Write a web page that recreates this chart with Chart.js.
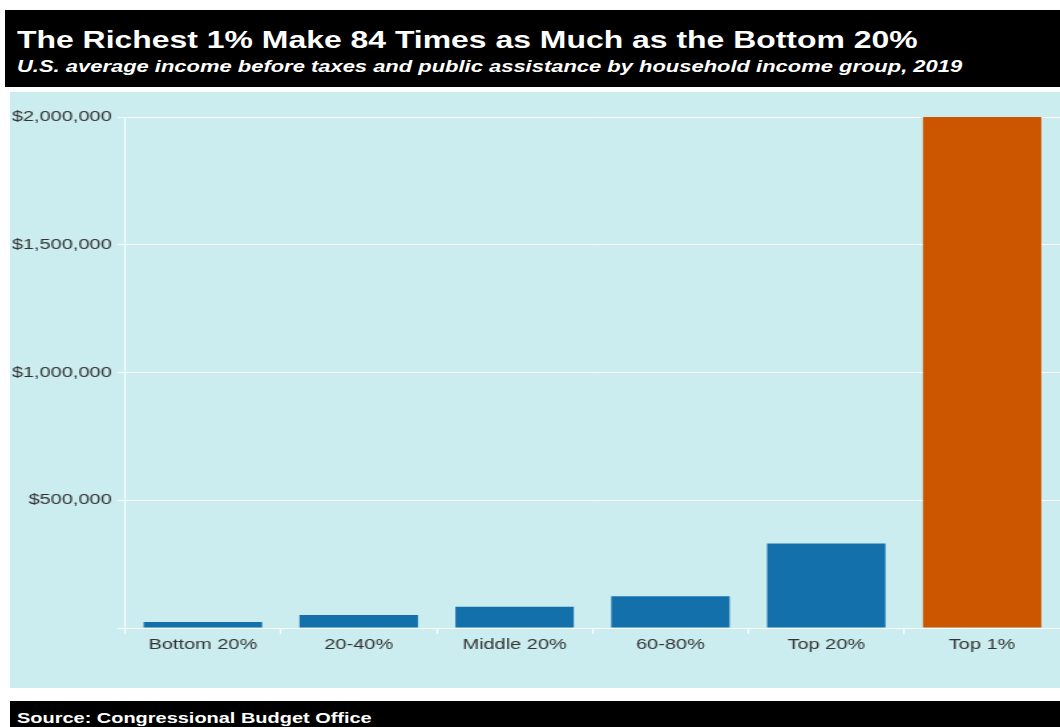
<!DOCTYPE html>
<html>
<head>
<meta charset="utf-8">
<script src="https://cdn.jsdelivr.net/npm/chart.js@4"></script>
<style>
  body { margin: 0; background: #fff; width: 1060px; height: 727px; overflow: hidden; position: relative; font-family: "Liberation Sans", Arial, sans-serif; }
  #head { position: absolute; left: 5px; top: 10px; width: 1055px; height: 77px; background: #000; color: #fff; }
  .wide { position: absolute; left: 12px; margin: 0; white-space: nowrap; transform: scaleX(1.33); transform-origin: left top; }
  #head h1 { top: 16px; font-size: 24px; font-weight: bold; }
  #head p { top: 47px; font-size: 16.5px; font-weight: bold; font-style: italic; }
  #panel { position: absolute; left: 10px; top: 92px; width: 1050px; height: 596px; background: #cbedf0; }
  #panel canvas { display: block; }
  #foot { position: absolute; left: 10px; top: 701px; width: 1050px; height: 26px; background: #000; color: #fff; font-size: 15px; font-weight: bold; }
  #foot span { left: 7px; top: 8px; }
</style>
</head>
<body>
<div id="head">
  <h1 class="wide">The Richest 1% Make 84 Times as Much as the Bottom 20%</h1>
  <p class="wide">U.S. average income before taxes and public assistance by household income group, 2019</p>
</div>
<div id="panel"><canvas id="myChart" width="790" height="596" style="width:1050px;height:596px"></canvas></div>
<div id="foot"><span class="wide">Source: Congressional Budget Office</span></div>
<script>
var groups = ['Bottom 20%', '20-40%', 'Middle 20%', '60-80%', 'Top 20%', 'Top 1%'];
var income = [23800, 51000, 83000, 124000, 331000, 2000000];
var barColors = ['#1370ab', '#1370ab', '#1370ab', '#1370ab', '#1370ab', '#cc5500'];
var yTicks = [500000, 1000000, 1500000, 2000000];

// the reference is stretched sideways, so the canvas is drawn narrow and widened by css
var ctx = document.getElementById('myChart').getContext('2d');
var myChart = new Chart(ctx, {
  type: 'bar',
  data: {
    labels: groups,
    datasets: [{
      label: 'Average income',
      data: income,
      backgroundColor: barColors,
      categoryPercentage: 1,
      barPercentage: 0.76
    }]
  },
  options: {
    responsive: false,
    animation: false,
    devicePixelRatio: 1,
    layout: { padding: { top: 25, right: 0, bottom: 32, left: 0 } },
    plugins: {
      legend: { display: false },
      title: { display: false },
      tooltip: { enabled: false }
    },
    scales: {
      x: {
        grid: { color: '#ffffff', drawOnChartArea: false, tickLength: 6, offset: true },
        border: { color: '#ffffff', width: 1 },
        ticks: { color: '#333', font: { family: 'Liberation Sans', size: 15 }, padding: 2 }
      },
      y: {
        min: 0,
        max: 2000000,
        afterBuildTicks: function (axis) {
          axis.ticks = [{ value: 0 }].concat(yTicks.map(function (v) { return { value: v }; }));
        },
        grid: { color: '#ffffff', tickLength: 5 },
        border: { color: '#ffffff', width: 1 },
        ticks: {
          color: '#333',
          font: { family: 'Liberation Sans', size: 15 },
          padding: 5,
          callback: function (v) { return v === 0 ? '' : '$' + v.toLocaleString('en-US'); }
        },
        afterFit: function (axis) { axis.width = 86.5; }
      }
    }
  }
});
</script>
</body>
</html>
